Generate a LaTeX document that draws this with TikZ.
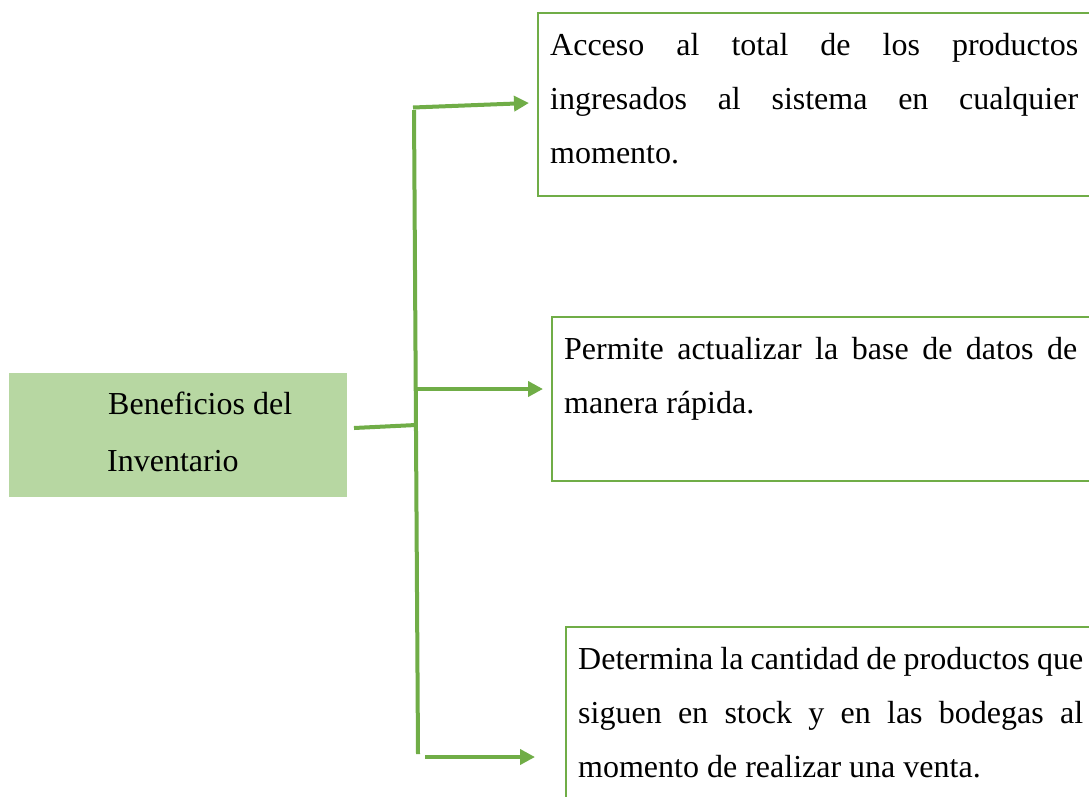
\documentclass[tikz,border=0pt]{standalone}
\usepackage{fontspec}
\setmainfont{Liberation Serif}
\usetikzlibrary{arrows.meta}
\definecolor{lgreen}{HTML}{70AD47}
\definecolor{boxfill}{HTML}{B7D7A2}
\tikzset{
  conn/.style={draw=lgreen, line width=4pt},
  arr/.style={conn, -{Triangle[length=15pt,width=15pt]}},
  itembox/.style={draw=lgreen, line width=2.2pt, anchor=north west, inner sep=0pt},
  itemtext/.style={anchor=north west, inner sep=0pt, align=justify,
    font=\fontsize{32}{54}\selectfont},
}
\begin{document}
\begin{tikzpicture}[x=1pt,y=-1pt]
\clip (0,0) rectangle (1089,796);
\fill[white] (0,0) rectangle (1089,796);

% main box
\node[fill=boxfill, anchor=north west, minimum width=338pt, minimum height=124pt, inner sep=0pt] (main) at (9,373) {};
\node[anchor=north west, inner sep=0pt, align=left, font=\fontsize{32}{57}\selectfont] (maintxt) at (107,384)
  {\rule{0pt}{30pt}\hspace{1pt}Beneficios del\\Inventario};

% item boxes
\node[itembox, minimum width=560pt, minimum height=183pt] (b1) at (537,12) {};
\node[itembox, minimum width=545pt, minimum height=164pt] (b2) at (551,316) {};
\node[itembox, minimum width=530pt, minimum height=180pt] (b3) at (565,626) {};

\node[itemtext, text width=528pt] (t1) at (550,25)
  {\noindent\hyphenpenalty=10000\rule{0pt}{30pt}Acceso al total de los productos\linebreak ingresados al sistema en cualquier\linebreak momento.};
\node[itemtext, text width=513pt] (t2) at (564,329)
  {\noindent\hyphenpenalty=10000\rule{0pt}{30pt}Permite actualizar la base de datos de\linebreak manera rápida.};
\node[itemtext, text width=505pt] (t3) at (578,639)
  {\noindent\hyphenpenalty=10000\rule{0pt}{30pt}Determina la cantidad de productos que\linebreak siguen en stock y en las bodegas al\linebreak momento de realizar una venta.};

% connectors
\coordinate (m0) at (354,428);
\coordinate (j0) at (416,425);
\coordinate (top) at (414,110);
\coordinate (bot) at (418,754);
\coordinate (s1) at (413,107.5);
\coordinate (e1) at (529,103);
\coordinate (s2) at (417,389);
\coordinate (e2) at (543,389);
\coordinate (s3) at (425,757);
\coordinate (e3) at (535,757);

\draw[conn] (m0) -- (j0);
\draw[conn] (top) -- (bot);
\draw[arr] (s1) -- (e1);
\draw[arr] (s2) -- (e2);
\draw[arr] (s3) -- (e3);
\end{tikzpicture}
\end{document}
